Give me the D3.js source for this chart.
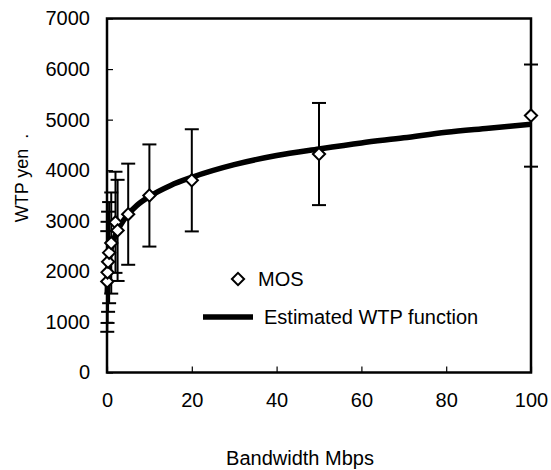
<!DOCTYPE html>
<html>
<head>
<meta charset="utf-8">
<script src="https://cdn.jsdelivr.net/npm/d3@7"></script>
<style>
  body { margin: 0; background: #fff; }
  text { font-family: "Liberation Sans", Arial, sans-serif; fill: #000; }
</style>
</head>
<body>
<div id="chart"></div>
<script>
// measured MOS (mean WTP) per bandwidth, with error bar half-lengths
const bandwidth = [0.064, 0.128, 0.256, 0.5, 1, 2, 2.5, 5, 10, 20, 50, 100];
const mosWTP = [1800, 1980, 2190, 2370, 2560, 2970, 2810, 3130, 3500, 3800, 4320, 5080];
const errWTP = [995, 1000, 990, 1000, 1000, 1000, 1000, 1000, 1010, 1010, 1010, 1010];

// estimated WTP function
const fitBandwidth = [0.05, 0.2, 0.5, 1, 2, 3, 5, 7, 10, 15, 20, 30, 40, 50, 60, 70, 80, 90, 100];
const fitWTP = [1560, 1940, 2220, 2460, 2720, 2890, 3130, 3300, 3480, 3700, 3860, 4110, 4290, 4420, 4540, 4640, 4750, 4830, 4910];

const xTicks = [0, 20, 40, 60, 80, 100];
const yTicks = [0, 1000, 2000, 3000, 4000, 5000, 6000, 7000];

const width = 551,
height = 470,
margin = { top: 18.5, right: 20, bottom: 97.5, left: 107 };
const innerW = width - margin.left - margin.right,
innerH = height - margin.top - margin.bottom;

const svg = d3.select('#chart').
append('svg').
attr('width', width).
attr('height', height);

const g = svg.append('g').
attr('transform', `translate(${margin.left},${margin.top})`);

const x = d3.scaleLinear().domain([0, 100]).range([0, innerW]);
const y = d3.scaleLinear().domain([0, 7000]).range([innerH, 0]);

// axes (ticks point inward)
const yAxis = g.append('g').
call(d3.axisLeft(y).tickValues(yTicks).tickFormat(d3.format('d')).
tickSizeInner(-6).tickSizeOuter(0).tickPadding(17));
yAxis.select('.domain').remove();
yAxis.selectAll('line').attr('stroke', '#000').attr('stroke-width', 1.2);
yAxis.selectAll('text').style('font-size', '20px');

const xAxis = g.append('g').
attr('transform', `translate(0,${innerH})`).
call(d3.axisBottom(x).tickValues(xTicks).tickFormat(d3.format('d')).
tickSizeInner(-6).tickSizeOuter(0).tickPadding(20));
xAxis.select('.domain').remove();
xAxis.selectAll('line').attr('stroke', '#000').attr('stroke-width', 1.2);
xAxis.selectAll('text').style('font-size', '20px');

// frame
g.append('rect').
attr('x', 0).attr('y', 0).
attr('width', innerW).attr('height', innerH).
attr('fill', 'none').
attr('stroke', '#000').
attr('stroke-width', 2.5);

const pts = bandwidth.map((b, i) => ({ b: b, v: mosWTP[i], e: errWTP[i] }));

// error bars
const capW = 7;
const eb = g.append('g').attr('stroke', '#000').attr('stroke-width', 2);
eb.selectAll('line.v').data(pts).enter().append('line').
attr('x1', d => x(d.b)).attr('x2', d => x(d.b)).
attr('y1', d => y(d.v - d.e)).attr('y2', d => y(d.v + d.e));
eb.selectAll('line.top').data(pts).enter().append('line').
attr('x1', d => x(d.b) - capW).attr('x2', d => x(d.b) + capW).
attr('y1', d => y(d.v + d.e)).attr('y2', d => y(d.v + d.e));
eb.selectAll('line.bot').data(pts).enter().append('line').
attr('x1', d => x(d.b) - capW).attr('x2', d => x(d.b) + capW).
attr('y1', d => y(d.v - d.e)).attr('y2', d => y(d.v - d.e));

// fitted curve
const fitData = fitBandwidth.map((b, i) => [b, fitWTP[i]]);
const line = d3.line().
x(d => x(d[0])).
y(d => y(d[1])).
curve(d3.curveMonotoneX);
g.append('path').
datum(fitData).
attr('d', line).
attr('fill', 'none').
attr('stroke', '#000').
attr('stroke-width', 5.5);

// diamonds
const diamond = d3.symbol().type(d3.symbolDiamond2).size(95);
g.selectAll('path.mos').data(pts).enter().append('path').
attr('class', 'mos').
attr('d', diamond).
attr('transform', d => `translate(${x(d.b)},${y(d.v)})`).
attr('fill', '#fff').
attr('stroke', '#000').
attr('stroke-width', 2);

// legend
const legend = svg.append('g');
legend.append('path').
attr('d', diamond).
attr('transform', 'translate(238,279)').
attr('fill', '#fff').
attr('stroke', '#000').
attr('stroke-width', 2);
legend.append('text').
attr('x', 258).attr('y', 286).
style('font-size', '20px').
text('MOS');
legend.append('line').
attr('x1', 203).attr('x2', 253).
attr('y1', 317).attr('y2', 317).
attr('stroke', '#000').
attr('stroke-width', 5.5);
legend.append('text').
attr('x', 264).attr('y', 324).
style('font-size', '20px').
text('Estimated WTP function');

// axis titles
svg.append('text').
attr('x', 300).
attr('y', 465).
attr('text-anchor', 'middle').
style('font-size', '20px').
text('Bandwidth Mbps');

svg.append('text').
attr('transform', 'translate(28,178) rotate(-90)').
attr('text-anchor', 'middle').
style('font-size', '18px').
style('white-space', 'pre').
text('WTP yen  .');
</script>
</body>
</html>
